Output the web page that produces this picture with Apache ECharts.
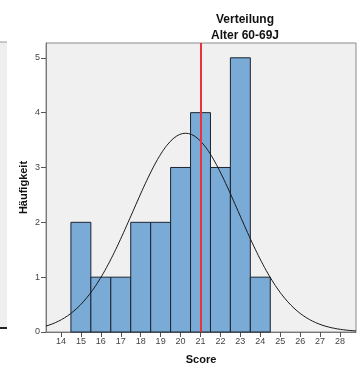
<!DOCTYPE html>
<html>
<head>
<meta charset="utf-8">
<script src="https://cdn.jsdelivr.net/npm/echarts@6/dist/echarts.min.js"></script>
<style>
  html, body { margin: 0; padding: 0; background: #ffffff; }
  #chart { width: 358px; height: 366px; }
</style>
</head>
<body>
<div id="chart"></div>
<script>
// Histogram of scores, age group 60-69
const scores = [15, 16, 17, 18, 19, 20, 21, 22, 23, 24];
const counts = [2, 1, 1, 2, 2, 3, 4, 3, 5, 1];
const xTickLabels = [14, 15, 16, 17, 18, 19, 20, 21, 22, 23, 24, 25, 26, 27, 28];
const yTickLabels = [0, 1, 2, 3, 4, 5];
const medianScore = 21;

// Normal curve fitted to the histogram (mean and SD of the binned data)
const n = counts.reduce((a, b) => a + b, 0);
const mean = scores.reduce((s, v, i) => s + v * counts[i], 0) / n;
const sd = Math.sqrt(scores.reduce((s, v, i) => s + counts[i] * (v - mean) ** 2, 0) / (n - 1));
const xMin = 13.25, xMax = 28.8;
const curve = [];
for (let i = 0; i <= 200; i++) {
  const x = xMin + (xMax - xMin) * i / 200;
  const z = (x - mean) / sd;
  curve.push([x, n * Math.exp(-0.5 * z * z) / (sd * Math.sqrt(2 * Math.PI))]);
}

const chart = echarts.init(document.getElementById('chart'), null, { renderer: 'canvas' });
const font = 'Liberation Sans, Arial, sans-serif';
const tickLabelStyle = { color: '#444', fontSize: 9, fontFamily: font };

chart.setOption({
  animation: false,
  backgroundColor: '#ffffff',
  title: {
    text: 'Verteilung\nAlter 60-69J',
    left: 240, top: 7, textAlign: 'center',
    textStyle: { fontSize: 12, fontWeight: 'bold', color: '#111', lineHeight: 16, fontFamily: font }
  },
  graphic: [
    // neighbouring panel edge on the left
    { type: 'rect', shape: { x: 0, y: 42, width: 7, height: 286 }, style: { fill: '#efefef' }, silent: true },
    { type: 'line', shape: { x1: 0, y1: 42, x2: 7, y2: 42 }, style: { stroke: '#999', lineWidth: 1 }, silent: true },
    { type: 'line', shape: { x1: 0, y1: 328, x2: 7, y2: 328 }, style: { stroke: '#222', lineWidth: 2 }, silent: true }
  ],
  grid: {
    left: 46, top: 43, right: 2, bottom: 34,
    outerBoundsMode: 'none', containLabel: false,
    show: true, backgroundColor: '#f0f0f0', borderColor: '#8a8a8a', borderWidth: 1
  },
  xAxis: {
    type: 'value', min: xMin, max: xMax,
    name: 'Score', nameLocation: 'middle', nameGap: 22,
    nameTextStyle: { fontSize: 11, fontWeight: 'bold', color: '#111', fontFamily: font },
    axisLine: { show: true, onZero: false, lineStyle: { color: '#777' } },
    axisTick: { show: true, length: 5, customValues: xTickLabels, lineStyle: { color: '#555' } },
    axisLabel: Object.assign({ customValues: xTickLabels, margin: 5 }, tickLabelStyle),
    splitLine: { show: false }
  },
  yAxis: {
    type: 'value', min: 0, max: 5.27,
    name: 'Häufigkeit', nameLocation: 'middle', nameGap: 17, nameMoveOverlap: false,
    nameTextStyle: { fontSize: 11, fontWeight: 'bold', color: '#111', fontFamily: font },
    axisLine: { show: true, lineStyle: { color: '#777' } },
    axisTick: { show: true, length: 5, customValues: yTickLabels, lineStyle: { color: '#555' } },
    axisLabel: Object.assign({ customValues: yTickLabels, margin: 6 }, tickLabelStyle),
    splitLine: { show: false }
  },
  series: [
    {
      type: 'custom',
      data: scores.map((s, i) => [s, counts[i]]),
      renderItem: function (params, api) {
        const x = api.value(0), c = api.value(1);
        const p0 = api.coord([x - 0.5, c]);
        const p1 = api.coord([x + 0.5, 0]);
        return {
          type: 'rect',
          shape: { x: p0[0], y: p0[1], width: p1[0] - p0[0], height: p1[1] - p0[1] },
          style: { fill: '#7aaad6', stroke: '#1c2430', lineWidth: 1 }
        };
      },
      z: 2
    },
    {
      type: 'line',
      data: curve,
      showSymbol: false,
      smooth: false,
      lineStyle: { color: '#1a1a1a', width: 1 },
      z: 3,
      markLine: {
        silent: true,
        symbol: 'none',
        label: { show: false },
        lineStyle: { color: '#e8323e', width: 2, type: 'solid' },
        data: [{ xAxis: medianScore }]
      }
    }
  ]
});
</script>
</body>
</html>
